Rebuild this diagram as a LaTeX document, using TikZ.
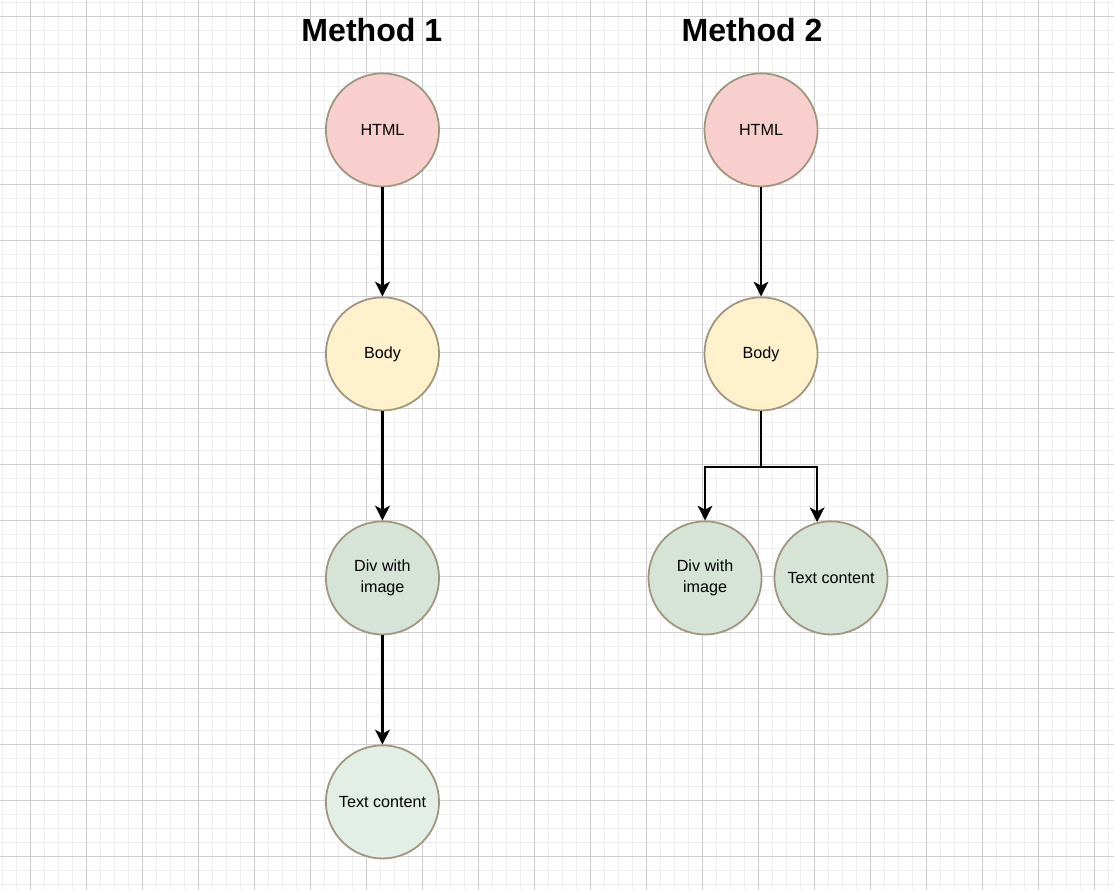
\documentclass[tikz,border=0pt]{standalone}
\usepackage{fontspec}
\setmainfont{Liberation Sans}
\usetikzlibrary{arrows.meta}

\definecolor{bordo}{HTML}{A0967F}
\definecolor{rosa}{HTML}{F8CFCD}
\definecolor{giallo}{HTML}{FFF1CC}
\definecolor{verde}{HTML}{D6E4D8}
\definecolor{verdechiaro}{HTML}{E3EFE6}
\definecolor{grigliamaggiore}{HTML}{CFCFCF}
\definecolor{grigliaminore}{HTML}{F0F0F0}

\begin{document}
\begin{tikzpicture}[>={Stealth[length=7.5pt,width=7.5pt,inset=2pt]}, line width=1.05pt,
  nodo/.style={circle, draw=bordo, line width=0.9pt, minimum size=2.02cm, inner sep=0pt,
    align=center, font=\fontsize{8.2}{10.7}\selectfont},
  titolo/.style={font=\fontsize{16.3}{19}\selectfont\bfseries}]

% Sfondo e bordi
\useasboundingbox (0,0) rectangle (19.893,-15.893);
\fill[white] (0,0) rectangle (19.893,-15.893);

% Griglia
\foreach \i in {0,...,79}
  \draw[grigliaminore, line width=0.5pt] ({(2+14*\i)/56},0) -- ({(2+14*\i)/56},-15.893);
\foreach \j in {0,...,63}
  \draw[grigliaminore, line width=0.5pt] (0,{-(2+14*\j)/56}) -- (19.893,{-(2+14*\j)/56});
\foreach \i in {0,...,19}
  \draw[grigliamaggiore, line width=0.5pt] ({(30+56*\i)/56},0) -- ({(30+56*\i)/56},-15.893);
\foreach \j in {0,...,15}
  \draw[grigliamaggiore, line width=0.5pt] (0,{-(16+56*\j)/56}) -- (19.893,{-(16+56*\j)/56});

% Titoli
\node[titolo] (tit1) at (6.64,-0.545) {Method 1};
\node[titolo] (tit2) at (13.43,-0.545) {Method 2};

% Metodo 1
\node[nodo, fill=rosa] (html1) at (6.83,-2.32) {HTML};
\node[nodo, fill=giallo] (body1) at (6.83,-6.32) {Body};
\node[nodo, fill=verde] (div1) at (6.83,-10.32) {Div with\\image};
\node[nodo, fill=verdechiaro] (text1) at (6.83,-14.32) {Text content};

% Metodo 2
\node[nodo, fill=rosa] (html2) at (13.59,-2.32) {HTML};
\node[nodo, fill=giallo] (body2) at (13.59,-6.32) {Body};
\node[nodo, fill=verde] (div2) at (12.59,-10.32) {Div with\\image};
\node[nodo, fill=verde] (text2) at (14.84,-10.32) {Text content};

% Frecce
\draw[->] (html1) -- (body1);
\draw[->] (body1) -- (div1);
\draw[->] (div1) -- (text1);
\draw[->] (html2) -- (body2);

% Biforcazione
\coordinate (bivio) at (13.59,-8.34);
\draw[->] (body2) -- (bivio) -| (div2);
\draw[->] (bivio) -| (text2.104);

\end{tikzpicture}
\end{document}
